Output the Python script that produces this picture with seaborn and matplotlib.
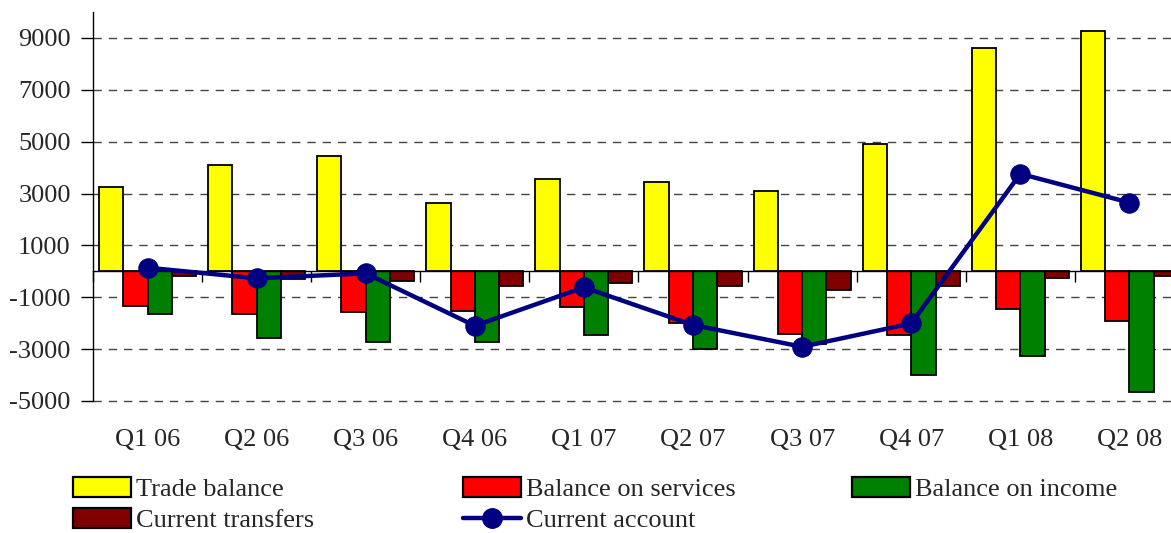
import numpy as np
import pandas as pd
import matplotlib
matplotlib.use("Agg")  # no display
import matplotlib.pyplot as plt
from matplotlib.patches import Patch
from matplotlib.lines import Line2D
from matplotlib.transforms import blended_transform_factory
import seaborn as sns

# Data
quarters = ["Q1 06", "Q2 06", "Q3 06", "Q4 06", "Q1 07",
            "Q2 07", "Q3 07", "Q4 07", "Q1 08", "Q2 08"]
trade_balance = [3270, 4100, 4460, 2650, 3550, 3460, 3100, 4900, 8630, 9280]
services = [-1340, -1640, -1560, -1530, -1370, -2010, -2430, -2460, -1470, -1920]
income = [-1650, -2560, -2740, -2720, -2460, -3010, -2820, -4000, -3270, -4650]
transfers = [-180, -280, -360, -560, -460, -560, -720, -560, -270, -180]
current_account = [140, -270, -80, -2100, -620, -2070, -2910, -2010, 3760, 2650]

series_names = ["Trade balance", "Balance on services", "Balance on income", "Current transfers"]
line_name = "Current account"
bar_colors = ["#FFFF00", "#FF0000", "#008000", "#800000"]
line_color = "#000080"
y_ticks = [-5000, -3000, -1000, 1000, 3000, 5000, 7000, 9000]

sns.set_theme(style="white")
plt.rcParams["font.family"] = ["Liberation Serif", "DejaVu Serif"]
plt.rcParams["axes.unicode_minus"] = False

# long-form table for seaborn
df = pd.DataFrame({
    "quarter": quarters * 4,
    "series": np.repeat(series_names, len(quarters)),
    "value": trade_balance + services + income + transfers,
})

fig = plt.figure(figsize=(11.71, 5.33), dpi=100)
ax = fig.add_axes([0.0794, 0.2477, 0.9317, 0.7298])

sns.barplot(data=df, x="quarter", y="value", hue="series", order=quarters,
            hue_order=series_names, palette=bar_colors, width=0.89,
            edgecolor="black", linewidth=1.3, saturation=1, legend=False,
            ax=ax, zorder=2)

n = len(quarters)
sns.lineplot(x=np.arange(n), y=current_account, color=line_color, lw=3.2,
             marker="o", markersize=14, markeredgecolor=line_color,
             sort=False, ax=ax, zorder=3)

ax.set_xlim(-0.5, n - 0.5)
ax.set_ylim(-5000, 10000)

# y axis and dashed grid
ax.set_yticks(y_ticks, labels=[str(v) for v in y_ticks])
ax.yaxis.grid(True, linestyle=(0, (6, 5)), color="#444444", lw=1)
for gl in ax.get_ygridlines():
    gl.set_clip_on(False)
ax.set_axisbelow(True)
ax.tick_params(axis="y", direction="out", length=9, width=1, color="black",
               labelsize=19, pad=7, left=True)

# category axis drawn at zero, ticks between groups
for side in ["top", "right"]:
    ax.spines[side].set_visible(False)
ax.spines["left"].set_color("black")
ax.spines["left"].set_linewidth(1)
ax.spines["bottom"].set_position(("data", 0))
ax.spines["bottom"].set_color("black")
ax.spines["bottom"].set_linewidth(1)
ax.set_xticks(np.arange(-0.5, n, 1), labels=[""] * (n + 1))
ax.tick_params(axis="x", direction="out", length=8, width=1, color="black", bottom=True)
ax.set_xlabel("")
ax.set_ylabel("")

trans = blended_transform_factory(ax.transData, ax.transAxes)
for i, q in enumerate(quarters):
    ax.text(i, -0.072, q, transform=trans, ha="center", va="top", fontsize=19)

# legend laid out in three columns like the original
def bar_handle(c):
    return Patch(facecolor=c, edgecolor="black", linewidth=1.6)

line_handle = Line2D([], [], color=line_color, lw=3.2, marker="o", markersize=14)
columns = [
    ([bar_handle(bar_colors[0]), bar_handle(bar_colors[3])], [series_names[0], series_names[3]], 73),
    ([bar_handle(bar_colors[1]), line_handle], [series_names[1], line_name], 463),
    ([bar_handle(bar_colors[2])], [series_names[2]], 852),
]
for handles, labels, x0 in columns:
    fig.legend(handles, labels, loc="upper left",
               bbox_to_anchor=(x0 / 1171, (533 - 477) / 533),
               frameon=False, fontsize=19, handlelength=2.2, handleheight=0.76,
               handletextpad=0.2, labelspacing=0.27, borderpad=0, borderaxespad=0)

fig.savefig("out.png", dpi=100)
